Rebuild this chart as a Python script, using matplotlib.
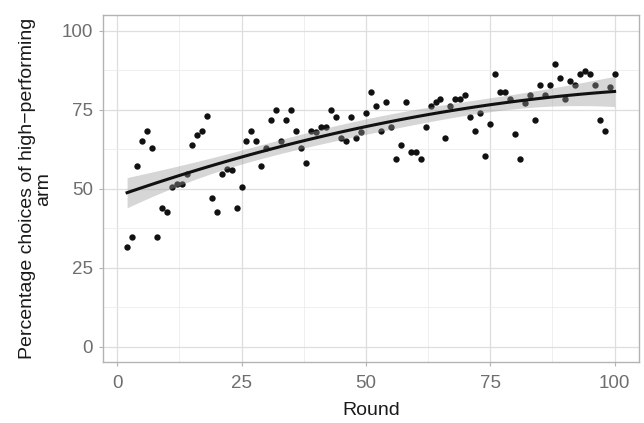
import numpy as np
import matplotlib.pyplot as plt
from matplotlib.ticker import MultipleLocator

# rounds 2..100, share of choices of the high-performing arm (%)
rounds = np.arange(2, 101)
pct_high = [
    31.4, 34.7, 57.1, 65.0, 68.4, 62.8, 34.7, 43.8, 42.5, 50.4,
    51.5, 51.5, 54.8, 63.8, 67.1, 68.4, 72.9, 47.0, 42.5, 54.8,
    56.2, 55.9, 43.8, 50.4, 65.0, 68.4, 65.0, 57.1, 62.8, 71.7,
    75.0, 65.0, 71.7, 75.0, 68.4, 62.8, 58.2, 68.4, 68.1, 69.5,
    69.5, 75.0, 72.8, 66.1, 65.0, 72.8, 66.1, 68.1, 74.0, 80.6,
    76.2, 68.4, 77.3, 69.5, 59.4, 63.9, 77.3, 61.6, 61.6, 59.4,
    69.5, 76.2, 77.3, 78.4, 66.1, 76.2, 78.4, 78.4, 79.6, 72.8,
    68.4, 74.0, 60.4, 70.6, 86.2, 80.7, 80.7, 78.4, 67.2, 59.4,
    77.2, 79.6, 71.7, 82.9, 79.6, 82.9, 89.6, 85.1, 78.4, 84.0,
    82.9, 86.3, 87.3, 86.3, 82.9, 71.7, 68.4, 82.3, 86.3,
]
y = np.array(pct_high)

# quadratic smooth with 95% confidence band
X = np.column_stack([np.ones_like(rounds), rounds, rounds ** 2]).astype(float)
beta, res, rank, sv = np.linalg.lstsq(X, y, rcond=None)
resid = y - X @ beta
s2 = resid @ resid / (len(y) - 3)
xtx_inv = np.linalg.inv(X.T @ X)
xg = np.linspace(rounds.min(), rounds.max(), 80)
Xg = np.column_stack([np.ones_like(xg), xg, xg ** 2])
fit = Xg @ beta
se = np.sqrt(np.einsum("ij,jk,ik->i", Xg, xtx_inv, Xg) * s2)
lo, hi = fit - 1.985 * se, fit + 1.985 * se

plt.rcParams["font.family"] = ["Liberation Sans", "DejaVu Sans"]

fig = plt.figure(figsize=(6.44, 4.23), dpi=100)
ax = fig.add_axes([0.1595, 0.1435, 0.8327, 0.821])

ax.scatter(rounds, y, s=21, color="#111111", linewidths=0, zorder=2)
ax.fill_between(xg, lo, hi, color="#999999", alpha=0.4, linewidth=0, zorder=3)
ax.plot(xg, fit, color="#111111", linewidth=2.2, zorder=4)

ax.set_xlim(-2.9, 104.9)
ax.set_ylim(-5, 105)
ax.xaxis.set_major_locator(MultipleLocator(25))
ax.yaxis.set_major_locator(MultipleLocator(25))
ax.xaxis.set_minor_locator(MultipleLocator(12.5))
ax.yaxis.set_minor_locator(MultipleLocator(12.5))
ax.grid(which="major", color="#dedede", linewidth=0.9, zorder=0)
ax.grid(which="minor", color="#ececec", linewidth=0.6, zorder=0)
ax.set_axisbelow(True)

for sp in ax.spines.values():
    sp.set_color("#b3b3b3")
    sp.set_linewidth(1.0)
ax.tick_params(which="major", length=3, width=0.8, color="#b3b3b3",
               labelcolor="#6e6e6e", labelsize=13.5)
ax.tick_params(axis="x", pad=6)
ax.tick_params(axis="y", pad=4)
ax.tick_params(which="minor", length=0)

ax.set_xlabel("Round", fontsize=14, color="#1a1a1a", labelpad=7)
ax.set_ylabel("Percentage choices of high\u2212performing\narm", fontsize=14,
              color="#1a1a1a", labelpad=7, linespacing=0.92)

fig.savefig("out.png", dpi=100)
